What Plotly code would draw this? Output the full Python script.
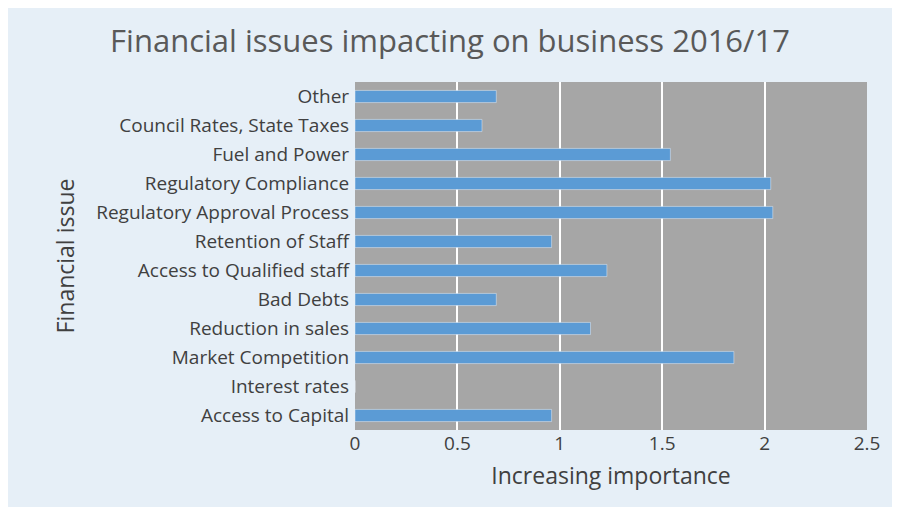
import plotly.graph_objects as go

issues = ["Access to Capital", "Interest rates", "Market Competition", "Reduction in sales",
          "Bad Debts", "Access to Qualified staff", "Retention of Staff",
          "Regulatory Approval Process", "Regulatory Compliance", "Fuel and Power",
          "Council Rates, State Taxes", "Other"]
importance = [0.96, 0, 1.85, 1.15, 0.69, 1.23, 0.96, 2.04, 2.03, 1.54, 0.62, 0.69]

fig = go.Figure(go.Bar(x=importance, y=issues, orientation="h",
                       marker_color="#5b9bd5", width=0.42))
fig.update_layout(
    width=884, height=499,
    title=dict(text="Financial issues impacting on business 2016/17", x=0.5, xanchor="center",
               y=0.955, font=dict(size=31, color="#595959")),
    font=dict(family="Open Sans", color="#404040", size=19),
    paper_bgcolor="#e6eff7", plot_bgcolor="#a6a6a6",
    margin=dict(l=347, r=16, t=74, b=77),
    xaxis=dict(range=[0, 2.5], dtick=0.5, gridcolor="white", gridwidth=2,
               title=dict(text="Increasing importance", standoff=12), zeroline=False),
    yaxis=dict(title=dict(text="Financial issue", standoff=15), ticksuffix=" "),
    showlegend=False,
)
fig.write_html("out.html")
